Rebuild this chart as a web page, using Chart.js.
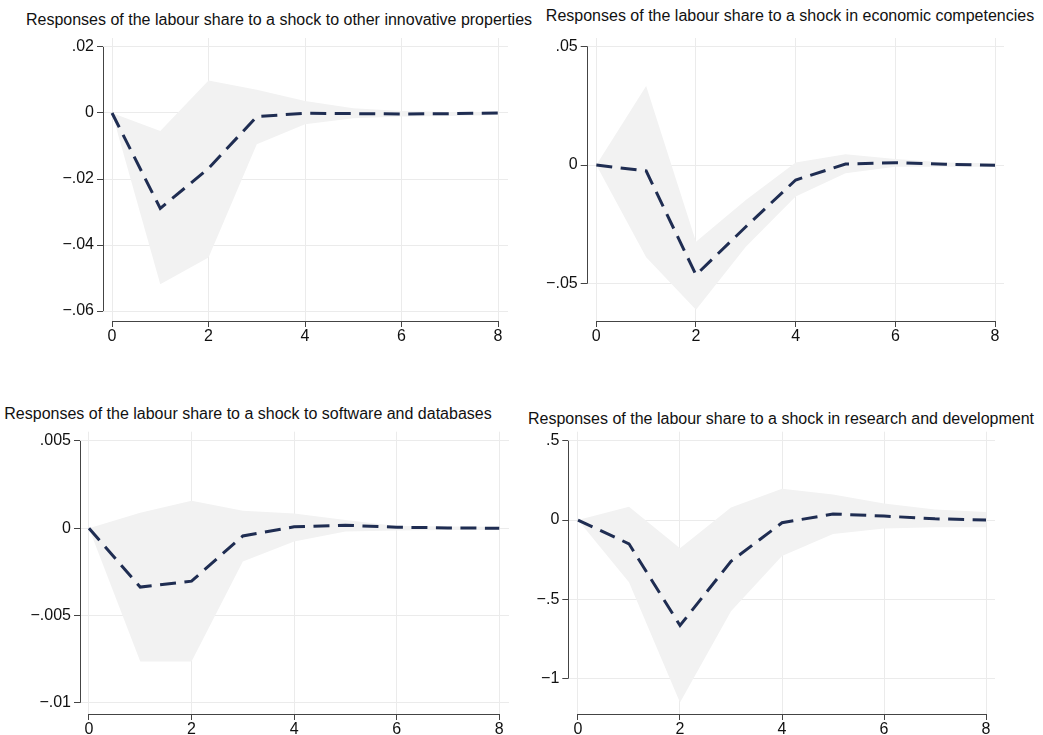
<!DOCTYPE html>
<html lang="en">
<head>
<meta charset="UTF-8">
<title>Responses of the labour share</title>
<script src="https://cdn.jsdelivr.net/npm/chart.js@4.4.1/dist/chart.umd.min.js"></script>
<style>
  body { margin: 0; background: #fff; width: 1043px; height: 735px; position: relative; overflow: hidden; font-family: 'Liberation Sans', Arial, sans-serif; }
  .title { position: absolute; width: 600px; text-align: center; font-size: 16px; line-height: 18px; color: #111; white-space: nowrap; }
  canvas { position: absolute; }
</style>
</head>
<body>
<div class="title" style="left:-21px; top:11px;">Responses of the labour share to a shock to other innovative properties</div>
<div class="title" style="left:490px; top:7px;">Responses of the labour share to a shock in economic competencies</div>
<div class="title" style="left:-52px; top:405px;">Responses of the labour share to a shock to software and databases</div>
<div class="title" style="left:481px; top:410px;">Responses of the labour share to a shock in research and development</div>

<canvas id="otherChart" width="480" height="330" style="left:40px; top:30px;"></canvas>
<canvas id="econChart" width="490" height="330" style="left:530px; top:30px;"></canvas>
<canvas id="softChart" width="510" height="315" style="left:10px; top:420px;"></canvas>
<canvas id="rdChart" width="500" height="315" style="left:520px; top:420px;"></canvas>

<script>
    // horizons and x ticks
    const horizon = [0, 1, 2, 3, 4, 5, 6, 7, 8];
    const xTicks = [0, 2, 4, 6, 8];

    // other innovative properties
    const irfOther = [0, -0.0289, -0.0168, -0.0011, -0.0001, -0.0002, -0.0003, -0.0002, 0];
    const upOther = [0, -0.0055, 0.0098, 0.0070, 0.0036, 0.0014, 0.0006, 0.0003, 0.0002];
    const loOther = [0, -0.0519, -0.0438, -0.0095, -0.0034, -0.0016, -0.0011, -0.0009, -0.0006];
    const yTicksOther = [-0.06, -0.04, -0.02, 0, 0.02];

    // economic competencies
    const irfEcon = [0, -0.0025, -0.0463, -0.0260, -0.0063, 0.0004, 0.0010, 0.0003, -0.0001];
    const upEcon = [0, 0.0333, -0.0323, -0.0147, 0.0011, 0.0045, 0.0025, 0.0011, 0.0007];
    const loEcon = [0, -0.0389, -0.0610, -0.0344, -0.0133, -0.0035, -0.0007, -0.0007, -0.0007];
    const yTicksEcon = [-0.05, 0, 0.05];

    // software and databases
    const irfSoft = [0, -0.00337, -0.00303, -0.00044, 0.00008, 0.00017, 0.00006, 0.00002, 0];
    const upSoft = [0, 0.00089, 0.00157, 0.00100, 0.00085, 0.00047, 0.00013, 0.00010, 0.00008];
    const loSoft = [0, -0.00763, -0.00763, -0.00191, -0.00076, -0.00019, -0.00013, -0.00010, -0.00010];
    const yTicksSoft = [-0.01, -0.005, 0, 0.005];

    // research and development
    const irfRd = [0, -0.15, -0.665, -0.26, -0.017, 0.038, 0.025, 0.008, 0];
    const upRd = [0, 0.084, -0.178, 0.079, 0.197, 0.161, 0.105, 0.067, 0.05];
    const loRd = [0, -0.393, -1.15, -0.575, -0.226, -0.088, -0.054, -0.046, -0.046];
    const yTicksRd = [-1, -0.5, 0, 0.5];

    Chart.defaults.font.family = "'Liberation Sans', Arial, sans-serif";
    Chart.defaults.font.size = 16;
    Chart.defaults.color = '#111';

    // Stata style labels: .02, 0, −.05
    function stataLabel(v) {
        if (Math.abs(v) < 1e-12) return '0';
        const s = String(Math.abs(v)).replace(/^0\./, '.');
        return (v < 0 ? '\u2212' : '') + s;
    }

    // axis lines only across the tick range
    const axisLines = {
        id: 'axisLines',
        afterDatasetsDraw(chart) {
            const { ctx, chartArea, scales: { x, y } } = chart;
            const ax = Math.round(chartArea.left) + 0.5;
            const ay = Math.round(chartArea.bottom) + 0.5;
            ctx.save();
            ctx.strokeStyle = '#444';
            ctx.lineWidth = 1;
            ctx.beginPath();
            ctx.moveTo(ax, y.getPixelForValue(y.ticks[0].value));
            ctx.lineTo(ax, y.getPixelForValue(y.ticks[y.ticks.length - 1].value));
            ctx.moveTo(x.getPixelForValue(x.ticks[0].value), ay);
            ctx.lineTo(x.getPixelForValue(x.ticks[x.ticks.length - 1].value), ay);
            ctx.stroke();
            ctx.restore();
        }
    };

    function points(arr) {
        return horizon.map((h, i) => ({ x: h, y: arr[i] }));
    }

    function makeChart(id, irf, up, lo, yTicks, xRange, yRange, box) {
        return new Chart(document.getElementById(id).getContext('2d'), {
            type: 'line',
            data: {
                datasets: [
                    { data: points(up), borderWidth: 0, pointRadius: 0, backgroundColor: '#f2f2f2', fill: '+1' },
                    { data: points(lo), borderWidth: 0, pointRadius: 0, backgroundColor: '#f2f2f2', fill: false },
                    { data: points(irf), borderColor: '#1f2d52', borderWidth: 3, borderDash: [16, 8.5], pointRadius: 0, fill: false, tension: 0 }
                ]
            },
            options: {
                responsive: false,
                animation: false,
                layout: { padding: { top: box.padTop, right: box.padRight, left: 0, bottom: 0 } },
                plugins: {
                    legend: { display: false },
                    tooltip: { enabled: false },
                    filler: { drawTime: 'beforeDatasetsDraw' }
                },
                scales: {
                    x: {
                        type: 'linear',
                        min: xRange[0], max: xRange[1],
                        afterBuildTicks: s => { s.ticks = xTicks.map(v => ({ value: v })); },
                        afterFit: s => { s.height = box.xHeight; s.paddingLeft = 0; s.paddingRight = 0; },
                        grid: { color: '#ebebeb', tickColor: '#444', tickLength: 6 },
                        border: { display: false },
                        ticks: { padding: 0, maxRotation: 0, color: '#111', callback: v => String(v) }
                    },
                    y: {
                        min: yRange[0], max: yRange[1],
                        afterBuildTicks: s => { s.ticks = yTicks.map(v => ({ value: v })); },
                        afterFit: s => { s.width = box.yWidth; s.paddingTop = 0; s.paddingBottom = 0; },
                        grid: { color: '#ebebeb', tickColor: '#444', tickLength: 6 },
                        border: { display: false },
                        ticks: { padding: 3, color: '#111', callback: v => stataLabel(v) }
                    }
                }
            },
            plugins: [axisLines]
        });
    }

    makeChart('otherChart', irfOther, upOther, loOther, yTicksOther,
        [-0.187, 8.207], [-0.063, 0.0227], { yWidth: 63, xHeight: 39, padTop: 8, padRight: 12 });
    makeChart('econChart', irfEcon, upEcon, loEcon, yTicksEcon,
        [-0.193, 8.18], [-0.0657, 0.0535], { yWidth: 56.7, xHeight: 39, padTop: 8, padRight: 16 });
    makeChart('softChart', irfSoft, upSoft, loSoft, yTicksSoft,
        [-0.175, 8.19], [-0.01064, 0.00553], { yWidth: 70, xHeight: 21, padTop: 11.7, padRight: 11 });
    makeChart('rdChart', irfRd, upRd, loRd, yTicksRd,
        [-0.19, 8.176], [-1.223, 0.557], { yWidth: 48.3, xHeight: 21, padTop: 11.7, padRight: 25 });
</script>
</body>
</html>
